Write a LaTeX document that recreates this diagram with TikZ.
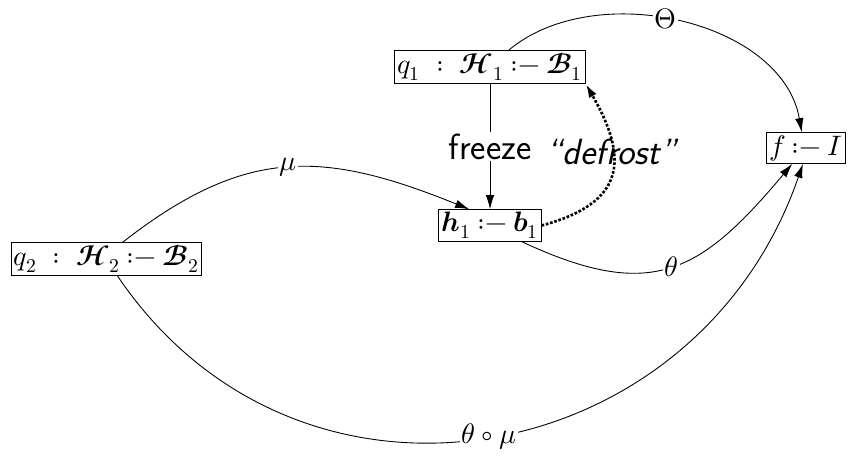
\documentclass[tikz,border=0pt]{standalone}
\usepackage{unicode-math}
\setmathfont{latinmodern-math.otf}
\usetikzlibrary{arrows.meta, positioning}

\newcommand{\bH}{\symbfscr{H}}
\newcommand{\bB}{\symbfscr{B}}
\newcommand{\bh}{\symbfit{h}}
\newcommand{\bb}{\symbfit{b}}
\newcommand{\ifsym}{\mathbin{{:}{-}}}

\begin{document}
\begin{tikzpicture}[
    >={Latex[length=2.8mm, width=1.7mm]},
    font=\fontsize{16}{19}\selectfont,
    line width=0.5pt,
    clause/.style={draw, rectangle, inner sep=1.5pt, line width=0.5pt},
    lbl/.style={fill=white, inner sep=1pt},
    word/.style={font=\huge\sffamily},
    thaw/.style={densely dotted, line width=1.5pt}
]
    \useasboundingbox (0,0) rectangle (16.98,9.36);

    % Clauses
    \node[clause] (q1) at (9.80,8.02) {$q_1 \;:\; \bH_1 \ifsym \bB_1$};
    \node[clause] (h1) at (9.80,4.85) {$\bh_1 \ifsym \bb_1$};
    \node[clause] (q2) at (2.13,4.18) {$q_2 \;:\; \bH_2 \ifsym \bB_2$};
    \node[clause] (f) at (16.12,6.40) {$f \ifsym I$};

    % Freeze and defrost
    \draw[->] (q1) -- (h1) node[lbl, word, midway] {freeze};
    \draw[->, thaw] (h1.east) to[out=15, in=-60, looseness=1.5]
        node[word, pos=0.65] {\textit{“defrost”}} (q1.south east);

    % Substitutions
    \draw[->] (q1.42) to[out=40, in=100, looseness=0.95] node[lbl, pos=0.46] {$\Theta$} (f.105);
    \draw[->] (q2.46) to[out=38, in=158, looseness=1.15] node[lbl, midway] {$\mu$} (h1.142);
    \draw[->] (h1.-27) to[out=-25, in=-130, looseness=1.3] node[lbl, midway] {$\theta$} (f.-131);
    \draw[->] (q2.-57) to[out=-56, in=-109, looseness=1.2] node[lbl, midway] {$\theta\circ\mu$} (f.-101);

\end{tikzpicture}
\end{document}
